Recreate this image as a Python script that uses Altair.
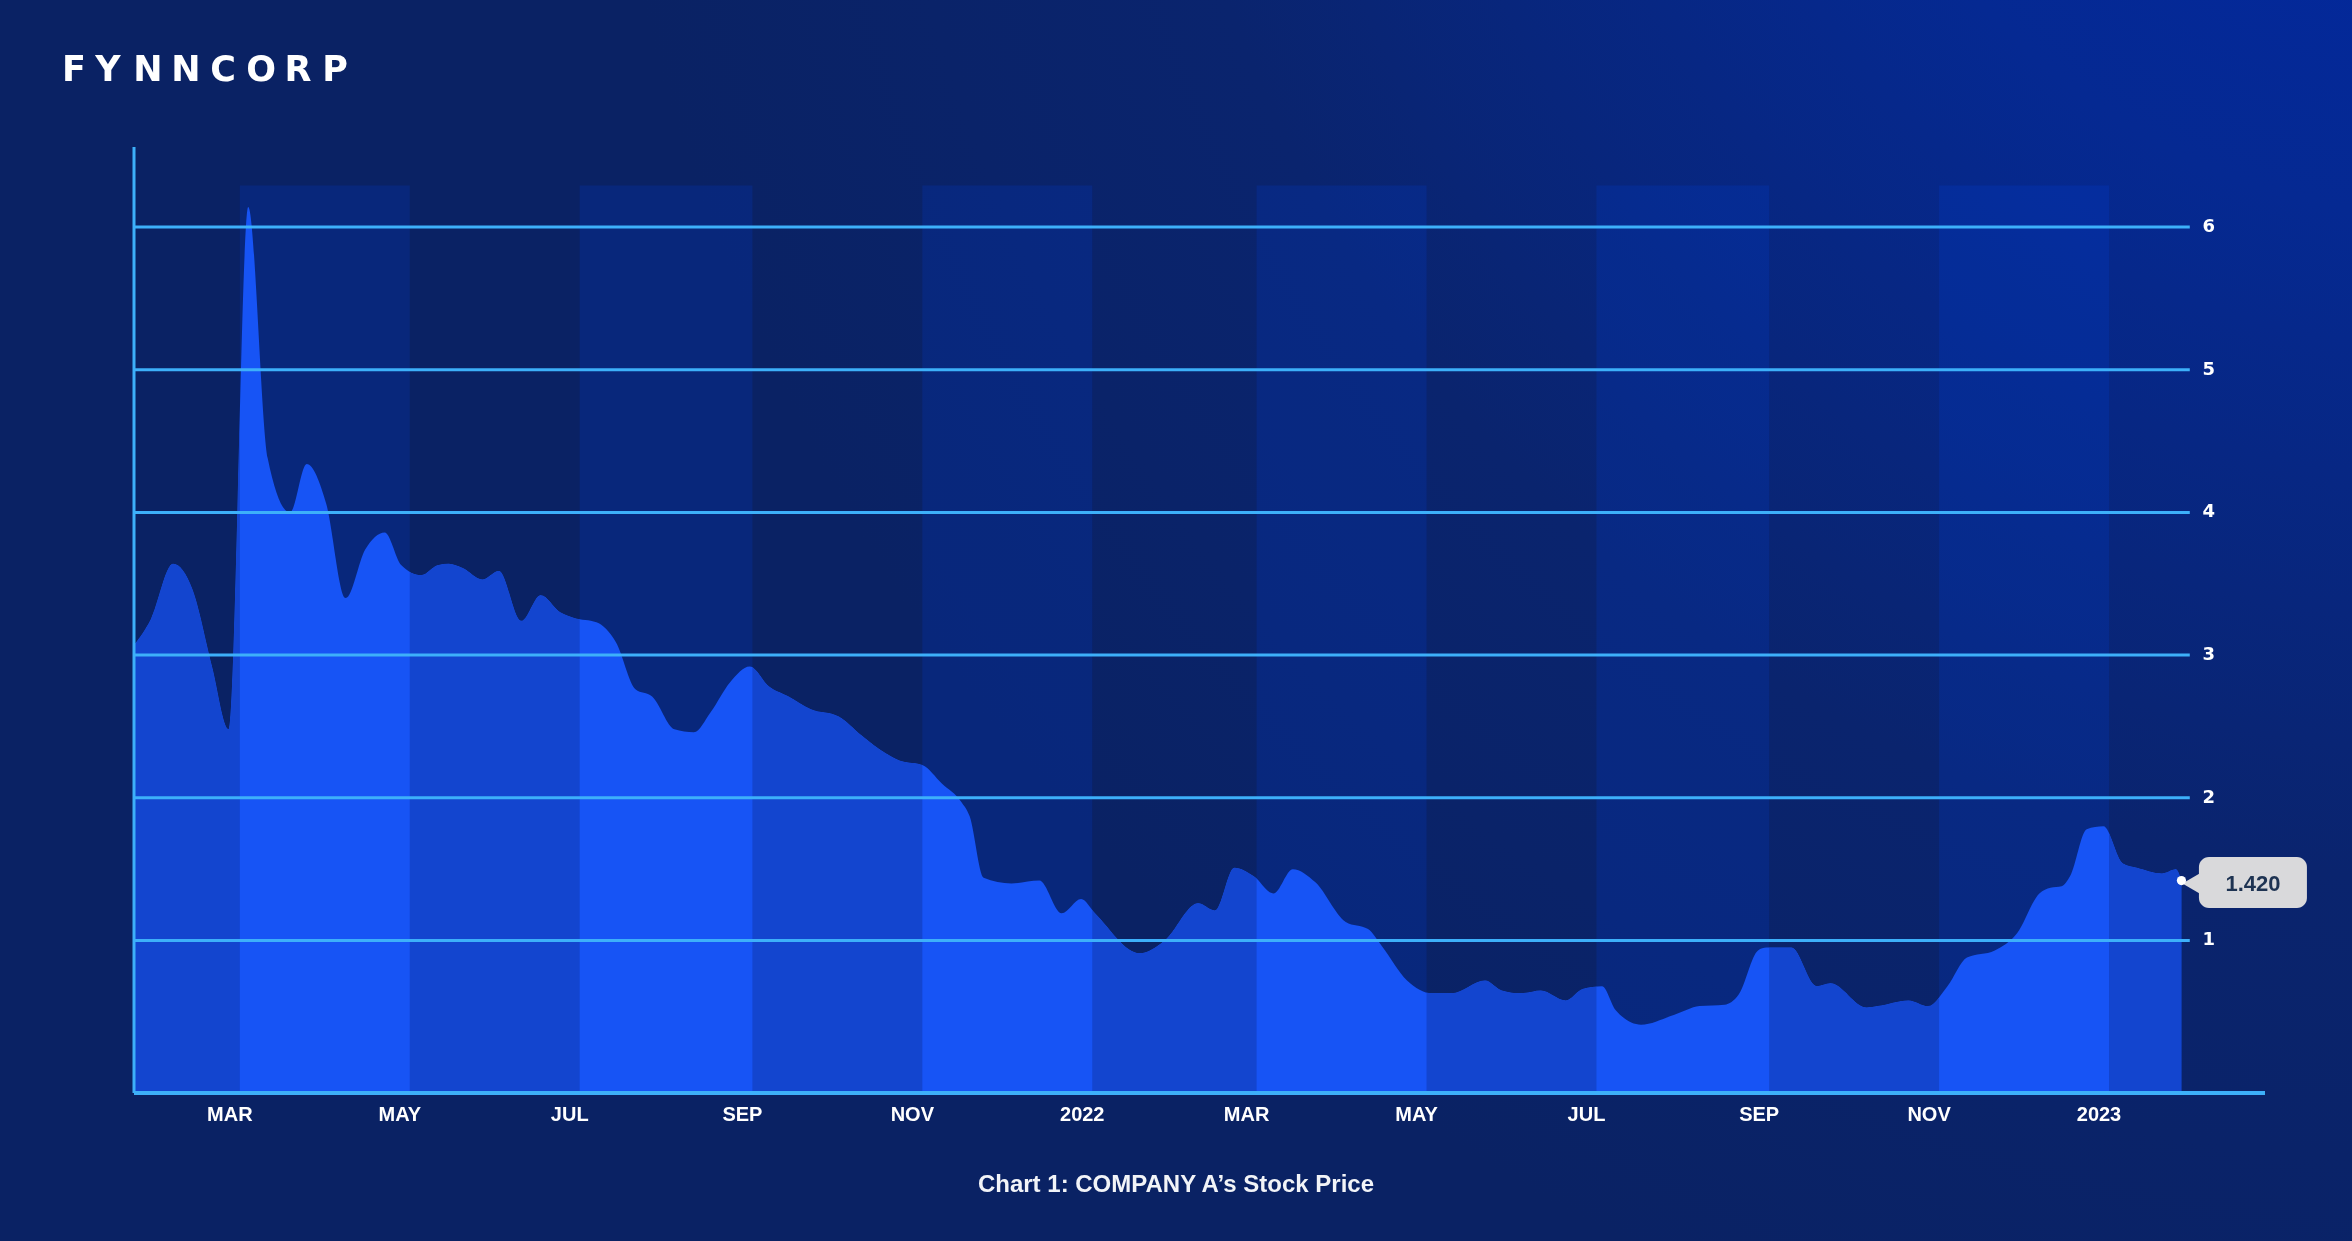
import altair as alt
import pandas as pd

# ---------------- data ----------------
START = "2021-01-22"   # first observation; day_offsets are days after it
day_offsets = [
    0, 6, 14, 21, 28, 34, 41, 48, 56, 62, 69, 76, 83, 90, 96, 103, 109, 113, 118, 125,
    131, 139, 146, 153, 158, 166, 173, 180, 186, 194, 201, 207, 214, 221, 228, 235, 243, 253, 261, 270,
    275, 283, 290, 297, 300, 305, 315, 325, 333, 340, 345, 361, 370, 382, 388, 395, 402, 409, 416, 424,
    435, 443, 448, 457, 466, 473, 485, 491, 498, 505, 514, 520, 527, 532, 541, 553, 562, 571, 576, 583,
    586, 595, 604, 609, 622, 626, 637, 644, 651, 658, 668, 676, 684, 688, 692, 695, 701, 707, 714, 719,
    728, 733, 735,
]
prices = [
    3.07, 3.25, 3.64, 3.46, 2.92, 2.48, 6.14, 4.38, 4.00, 4.34, 4.06, 3.40, 3.74, 3.86, 3.63, 3.56, 3.63, 3.64, 3.61, 3.53,
    3.59, 3.24, 3.42, 3.30, 3.26, 3.23, 3.09, 2.76, 2.71, 2.48, 2.46, 2.60, 2.81, 2.92, 2.78, 2.71, 2.62, 2.57, 2.44, 2.31,
    2.26, 2.23, 2.10, 1.97, 1.87, 1.44, 1.40, 1.42, 1.19, 1.29, 1.19, 0.91, 1.00, 1.26, 1.21, 1.51, 1.45, 1.33, 1.50, 1.41,
    1.13, 1.08, 0.96, 0.72, 0.63, 0.63, 0.72, 0.65, 0.63, 0.65, 0.58, 0.66, 0.68, 0.51, 0.41, 0.48, 0.54, 0.55, 0.62, 0.93,
    0.95, 0.95, 0.68, 0.70, 0.53, 0.54, 0.58, 0.54, 0.68, 0.88, 0.93, 1.05, 1.33, 1.37, 1.38, 1.45, 1.78, 1.80, 1.54, 1.51,
    1.47, 1.50, 1.42,
]
dates = list((pd.Timestamp(START) + pd.to_timedelta(day_offsets, unit="D")).strftime("%Y-%m-%d"))

band_starts = ["2021-03-01", "2021-07-01", "2021-11-01", "2022-03-01", "2022-07-01", "2022-11-01"]
band_ends   = ["2021-05-01", "2021-09-01", "2022-01-01", "2022-05-01", "2022-09-01", "2023-01-01"]
DOMAIN_START = (2021, 1, 22)
DOMAIN_END = (2023, 2, 26)
GRID_END = (2023, 1, 30)
y_levels = [1, 2, 3, 4, 5, 6]
tick_dates = ["2021-03-01", "2021-05-01", "2021-07-01", "2021-09-01", "2021-11-01", "2022-01-01",
              "2022-03-01", "2022-05-01", "2022-07-01", "2022-09-01", "2022-11-01", "2023-01-01"]
tick_labels = ["MAR", "MAY", "JUL", "SEP", "NOV", "2022", "MAR", "MAY", "JUL", "SEP", "NOV", "2023"]
logo_text = "FYNNCORP"
caption_text = "Chart 1: COMPANY A\u2019s Stock Price"

Y_MIN, Y_MAX, BAND_TOP = -0.069, 6.561, 6.291

# ---------------- styling ----------------
W, H = 2131, 946
PAD = {"left": 134, "top": 147, "right": 87, "bottom": 148}
LINE = "#3DB0FA"
AREA_BRIGHT = "#1754F5"
AREA_DARK = "#1345CF"
LABEL_FONT = "Liberation Sans"
NUM_FONT = "DejaVu Sans"
LOGO_CENTERS = [74, 108, 148, 186, 223, 261, 298, 335]   # page pixels


def dt(y, m, d):
    return alt.DateTime(year=y, month=m, date=d, utc=True)


gap_starts = ["%04d-%02d-%02d" % DOMAIN_START] + band_ends
gap_ends = band_starts + ["%04d-%02d-%02d" % DOMAIN_END]

df = pd.DataFrame({"date": dates, "price": prices})
bands = pd.DataFrame({"start": band_starts, "end": band_ends})
gaps = pd.DataFrame({"start": gap_starts, "end": gap_ends})
levels = pd.DataFrame({"level": y_levels})
ticks = pd.DataFrame({"date": tick_dates, "label": tick_labels})
last = pd.DataFrame({"date": [dates[-1]], "price": [prices[-1]],
                     "label": ["%.3f" % prices[-1]]})
one = alt.Data(values=[{}])

xscale = alt.Scale(type="utc", domain=[dt(*DOMAIN_START), dt(*DOMAIN_END)], nice=False)
yscale = alt.Scale(domain=[Y_MIN, Y_MAX], nice=False, zero=False)

bg = alt.Chart(one).mark_rect(
    color=alt.RadialGradient(
        gradient="radial",
        stops=[alt.GradientStop(offset=0, color="#0027A8"),
               alt.GradientStop(offset=0.35, color="#052992"),
               alt.GradientStop(offset=0.7, color="#0A246E"),
               alt.GradientStop(offset=1, color="#0A2264")],
        x1=1.05, y1=0.05, r1=0, x2=1.05, y2=0.05, r2=0.8),
    clip=False,
).encode(x=alt.value(-PAD["left"]), x2=alt.value(W + PAD["right"]),
         y=alt.value(-PAD["top"]), y2=alt.value(H + PAD["bottom"]))

band_rects = alt.Chart(bands).mark_rect(color="#004BFF", opacity=0.15).encode(
    x=alt.X("start:T", scale=xscale, axis=None),
    x2="end:T",
    y=alt.datum(BAND_TOP, scale=yscale, axis=None),
    y2=alt.datum(Y_MIN),
)

area = alt.Chart(df).mark_area(interpolate="monotone", color=AREA_BRIGHT).encode(
    x=alt.X("date:T", axis=None),
    y=alt.Y("price:Q", axis=None),
    y2=alt.datum(Y_MIN),
)

darken = alt.Chart(gaps).mark_rect(color=AREA_DARK, blend="darken").encode(
    x=alt.X("start:T", axis=None),
    x2="end:T",
    y=alt.datum(BAND_TOP, axis=None),
    y2=alt.datum(Y_MIN),
)

grid = alt.Chart(levels).mark_rule(color=LINE, strokeWidth=3).encode(
    y=alt.Y("level:Q", axis=None),
    x=alt.datum(dt(*DOMAIN_START), axis=None),
    x2=alt.datum(dt(*GRID_END)),
)

y_labels = alt.Chart(levels).mark_text(
    font=NUM_FONT, fontSize=18, fontWeight="bold", color="#FFFFFF",
    align="center", baseline="middle", xOffset=19,
).encode(
    y=alt.Y("level:Q", axis=None),
    x=alt.datum(dt(*GRID_END), axis=None),
    text=alt.Text("level:Q", format="d"),
)

left_line = alt.Chart(one).mark_rule(color=LINE, strokeWidth=3).encode(
    x=alt.datum(dt(*DOMAIN_START), axis=None),
    y=alt.datum(Y_MAX, axis=None),
    y2=alt.datum(Y_MIN),
)

bottom_line = alt.Chart(one).mark_rule(color=LINE, strokeWidth=4).encode(
    x=alt.datum(dt(*DOMAIN_START), axis=None),
    x2=alt.datum(dt(*DOMAIN_END)),
    y=alt.datum(Y_MIN, axis=None),
)

x_labels = alt.Chart(ticks).mark_text(
    font=LABEL_FONT, fontSize=20, fontWeight="bold", color="#FFFFFF",
    align="center", baseline="middle", xOffset=-10,
).encode(
    x=alt.X("date:T", axis=None),
    y=alt.value(H + 22),
    text="label:N",
)

px = alt.X("date:T", axis=None)
py = alt.Y("price:Q", axis=None)

pointer = alt.Chart(last).mark_point(
    shape="M -0.86 0 L 0.86 -1 L 0.86 1 Z", size=441, filled=True, opacity=1,
    color="#D9D9DB", xOffset=10, yOffset=3, clip=False,
).encode(x=px, y=py)

callout = alt.Chart(last).mark_rect(
    width=108, height=51, cornerRadius=10, color="#D9D9DB", xOffset=71.5, yOffset=2, clip=False,
).encode(x=px, y=py)

dot = alt.Chart(last).mark_point(size=85, filled=True, color="#FFFFFF", opacity=1).encode(
    x=px, y=py)

callout_text = alt.Chart(last).mark_text(
    font=LABEL_FONT, fontSize=22, fontWeight="bold", color="#1E3352",
    xOffset=71.5, yOffset=3, align="center", baseline="middle",
).encode(x=px, y=py, text="label:N")

logo_layers = [
    alt.Chart(one).mark_text(
        text=ch, font=NUM_FONT, fontSize=35, fontWeight="bold", color="#FFFFFF",
        align="center", baseline="middle",
    ).encode(x=alt.value(cx - PAD["left"]), y=alt.value(70 - PAD["top"]))
    for ch, cx in zip(logo_text, LOGO_CENTERS)
]

caption = alt.Chart(one).mark_text(
    text=caption_text, font=LABEL_FONT, fontSize=24, fontWeight="bold", color="#F2F4F8",
    align="center", baseline="middle",
).encode(x=alt.value(1176 - PAD["left"]), y=alt.value(1185 - PAD["top"]))

chart = alt.layer(
    bg, band_rects, area, darken, grid, y_labels, left_line, bottom_line, x_labels,
    pointer, callout, dot, callout_text, *logo_layers, caption
).properties(
    width=W, height=H, padding=PAD, autosize=alt.AutoSizeParams(type="none"),
    background="#0A2366",
).configure_view(stroke=None)

chart.save("out.html", embed_options={"renderer": "svg", "actions": False})
